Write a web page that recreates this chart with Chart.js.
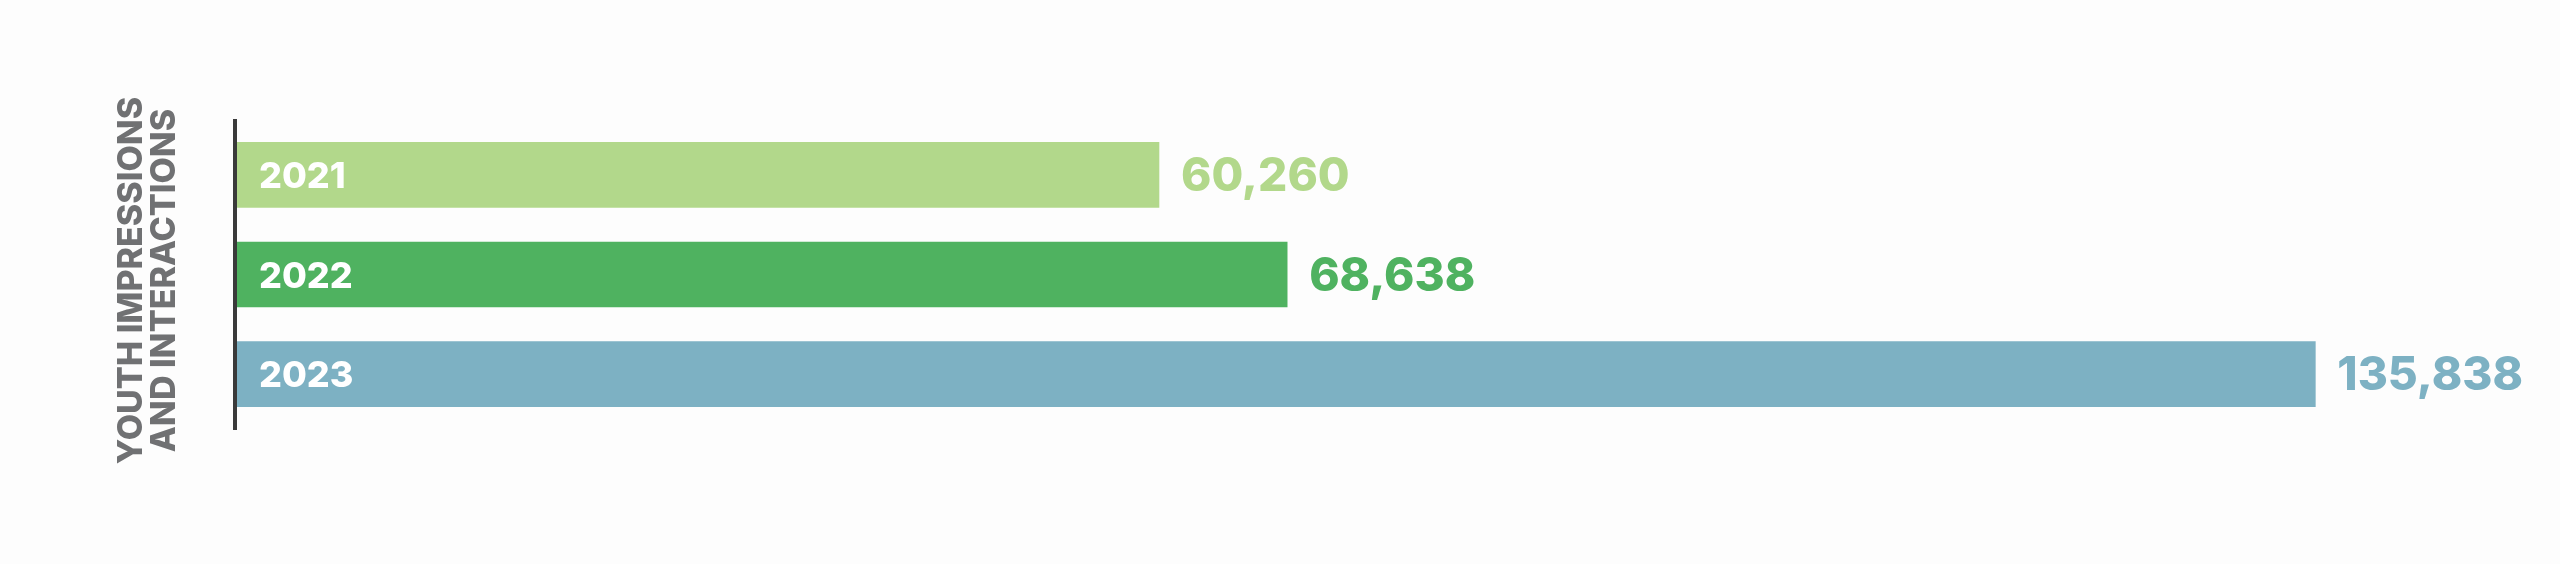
<!DOCTYPE html>
<html><head><meta charset="utf-8">
<script src="https://cdn.jsdelivr.net/npm/chart.js@4"></script>
<style>html,body{margin:0;padding:0;background:#fdfdfd;}canvas{display:block;}</style>
</head><body>
<canvas id="c" width="2560" height="564"></canvas>
<script>
const years = ['2021', '2022', '2023'];
const values = [60260, 68638, 135838];
const barColors = ['#b2d88b', '#4fb260', '#7db1c3'];
const axisTitle = ['YOUTH IMPRESSIONS', 'AND INTERACTIONS'];
const xMax = 150000;

const FONT = 'Inter, "Open Sans", sans-serif';

const decor = {
  id: 'decor',
  afterDatasetsDraw(chart) {
    const ctx = chart.ctx;
    const meta = chart.getDatasetMeta(0);
    const yScale = chart.scales.y;
    const a = chart.chartArea;
    ctx.save();
    ctx.textAlign = 'left';
    ctx.textBaseline = 'alphabetic';
    ctx.font = '800 46px ' + FONT;
    meta.data.forEach((el, i) => {
      ctx.fillStyle = barColors[i];
      ctx.fillText(values[i].toLocaleString('en-US'), el.x + 22, el.y + 16);
    });
    ctx.font = '800 36px ' + FONT;
    ctx.fillStyle = '#ffffff';
    years.forEach((y, i) => {
      const py = yScale.getPixelForValue(i);
      ctx.fillText(y, a.left + 22, py + 13);
    });
    ctx.restore();
  },
  afterDraw(chart) {
    const ctx = chart.ctx;
    const a = chart.chartArea;
    ctx.save();
    ctx.strokeStyle = '#3a3a3a';
    ctx.lineWidth = 4;
    ctx.beginPath();
    ctx.moveTo(a.left - 2, a.top - 6);
    ctx.lineTo(a.left - 2, a.bottom + 6);
    ctx.stroke();
    ctx.fillStyle = '#707173';
    ctx.font = '800 34px ' + FONT;
    ctx.textAlign = 'center';
    ctx.textBaseline = 'alphabetic';
    const cy = (a.top + a.bottom) / 2 + 6;
    const baseX = [142, 175];
    axisTitle.forEach((t, i) => {
      ctx.save();
      ctx.translate(baseX[i], cy);
      ctx.rotate(-Math.PI / 2);
      ctx.fillText(t, 0, 0);
      ctx.restore();
    });
    ctx.restore();
  }
};

new Chart(document.getElementById('c'), {
  type: 'bar',
  data: {
    labels: years,
    datasets: [{
      data: values,
      backgroundColor: barColors,
      borderWidth: 0,
      barThickness: 65
    }]
  },
  options: {
    indexAxis: 'y',
    responsive: false,
    animation: false,
    devicePixelRatio: 1,
    layout: { padding: { left: 237, right: 28, top: 125, bottom: 140 } },
    plugins: { legend: { display: false }, tooltip: { enabled: false } },
    scales: {
      x: { display: false, min: 0, max: xMax },
      y: { display: false }
    }
  },
  plugins: [decor]
});
</script>
</body></html>
